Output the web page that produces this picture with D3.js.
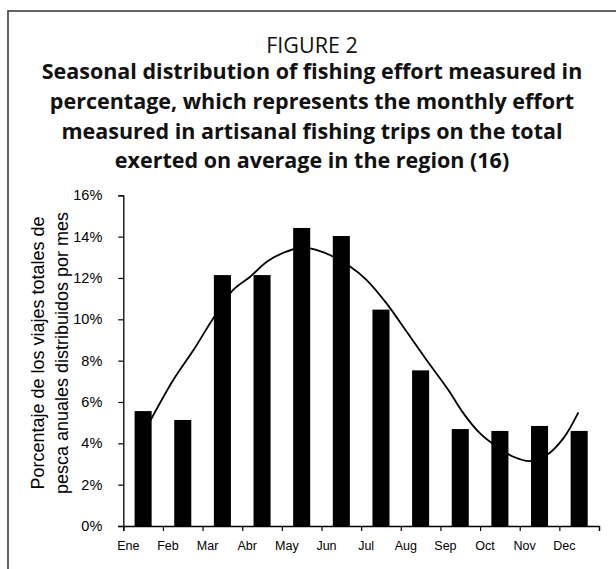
<!DOCTYPE html>
<html>
<head>
<meta charset="utf-8">
<script src="https://cdn.jsdelivr.net/npm/d3@7"></script>
<style>
  html, body { margin: 0; padding: 0; background: #fff; }
  svg { display: block; }
</style>
</head>
<body>
<script>
// Monthly share of artisanal fishing trips (% of yearly total)
const months = ["Ene", "Feb", "Mar", "Abr", "May", "Jun", "Jul", "Aug", "Sep", "Oct", "Nov", "Dec"];
const effort = [5.56, 5.13, 12.14, 12.14, 14.42, 14.03, 10.47, 7.53, 4.69, 4.60, 4.84, 4.60];

// Fitted seasonal trend: position in months (0 = Ene) and percentage
const trendMonth = [0.17, 0.76, 1.27, 1.77, 2.27, 2.70, 3.12, 3.54, 3.96, 4.21, 4.71, 5.22, 5.64, 6.14, 6.65, 7.15, 7.70, 8.08, 8.50, 8.92, 9.34, 9.76, 10.18, 10.60, 10.98];
const trendValue = [5.05, 7.06, 8.51, 10.05, 11.42, 12.06, 12.79, 13.22, 13.45, 13.43, 13.11, 12.55, 11.90, 10.77, 9.40, 8.03, 6.58, 5.45, 4.48, 3.84, 3.35, 3.14, 3.43, 4.24, 5.50];

const yTicks = [0, 2, 4, 6, 8, 10, 12, 14, 16];

const titleTop = "FIGURE 2";
const titleLines = [
  "Seasonal distribution of fishing effort measured in",
  "percentage, which represents the monthly effort",
  "measured in artisanal fishing trips on the total",
  "exerted on average in the region (16)"
];
const yLabelLines = ["Porcentaje de los viajes totales de", "pesca anuales distribuidos por mes"];

const W = 616, H = 569;
const plot = { left: 123.3, right: 599, top: 195.3, bottom: 526 };

const svg = d3.select("body").append("svg")
  .attr("width", W).attr("height", H);

// Outer frame (open to the right and bottom edges)
svg.append("rect")
  .attr("x", 8).attr("y", 11)
  .attr("width", 640).attr("height", 600)
  .attr("fill", "none")
  .attr("stroke", "#3c3c3c")
  .attr("stroke-width", 1.6);

// Title block
const cx = 312;
svg.append("text")
  .attr("x", cx).attr("y", 52.5)
  .attr("text-anchor", "middle")
  .attr("font-family", "'Open Sans', sans-serif")
  .attr("font-size", 21.5)
  .attr("fill", "#111")
  .text(titleTop);

svg.append("g").selectAll("text")
  .data(titleLines)
  .join("text")
  .attr("x", cx)
  .attr("y", (d, i) => 79.2 + i * 29.7)
  .attr("text-anchor", "middle")
  .attr("font-family", "'Open Sans', sans-serif")
  .attr("font-weight", "bold")
  .attr("font-size", 21.5)
  .attr("fill", "#111")
  .text(d => d);

// Scales
const y = d3.scaleLinear().domain([0, 16]).range([plot.bottom, plot.top]);
const xMonth = d3.scaleLinear().domain([0, 12]).range([plot.left, plot.right]);
const xBand = d3.scaleBand()
  .domain(months)
  .range([plot.left, plot.right])
  .paddingInner(0.57)
  .paddingOuter(0.285);

// Bars
svg.append("g").selectAll("rect")
  .data(effort)
  .join("rect")
  .attr("x", (d, i) => xBand(months[i]))
  .attr("width", xBand.bandwidth())
  .attr("y", d => y(d))
  .attr("height", d => y(0) - y(d))
  .attr("fill", "#000");

// Trend curve
const line = d3.line()
  .x((d, i) => xMonth(trendMonth[i] + 0.5))
  .y(d => y(d))
  .curve(d3.curveCatmullRom.alpha(0.5));

svg.append("path")
  .datum(trendValue)
  .attr("d", line)
  .attr("fill", "none")
  .attr("stroke", "#000")
  .attr("stroke-width", 1.8);

// Y axis
const yAxis = svg.append("g")
  .attr("transform", `translate(${plot.left},0)`)
  .call(d3.axisLeft(y).tickValues(yTicks).tickSize(5).tickPadding(16)
    .tickFormat(d => d + "%"));
yAxis.select(".domain").attr("stroke", "#000").attr("stroke-width", 1.3);
yAxis.selectAll(".tick line").attr("stroke", "#000").attr("stroke-width", 1.2);
yAxis.selectAll(".tick text")
  .attr("font-family", "'Liberation Sans', Arial, sans-serif")
  .attr("font-size", 14.5)
  .attr("fill", "#000");

// X axis: ticks at month boundaries
const xAxis = svg.append("g")
  .attr("transform", `translate(0,${plot.bottom})`)
  .call(d3.axisBottom(xMonth).tickValues(d3.range(13)).tickSize(5).tickFormat(""));
xAxis.select(".domain").attr("stroke", "#000").attr("stroke-width", 1.3);
xAxis.selectAll(".tick line").attr("stroke", "#000").attr("stroke-width", 1.2);

// Month labels
svg.append("g").selectAll("text")
  .data(months)
  .join("text")
  .attr("x", (d, i) => xMonth(i) + 5)
  .attr("y", 549.5)
  .attr("text-anchor", "middle")
  .attr("font-family", "'Liberation Sans', Arial, sans-serif")
  .attr("font-size", 12.5)
  .attr("fill", "#000")
  .text(d => d);

// Y axis title (two lines)
const yLab = [44, 67.5];
svg.append("g").selectAll("text")
  .data(yLabelLines)
  .join("text")
  .attr("transform", (d, i) => `translate(${yLab[i]},353) rotate(-90)`)
  .attr("text-anchor", "middle")
  .attr("font-family", "'Liberation Sans', Arial, sans-serif")
  .attr("font-size", 18)
  .attr("fill", "#000")
  .text(d => d);
</script>
</body>
</html>
